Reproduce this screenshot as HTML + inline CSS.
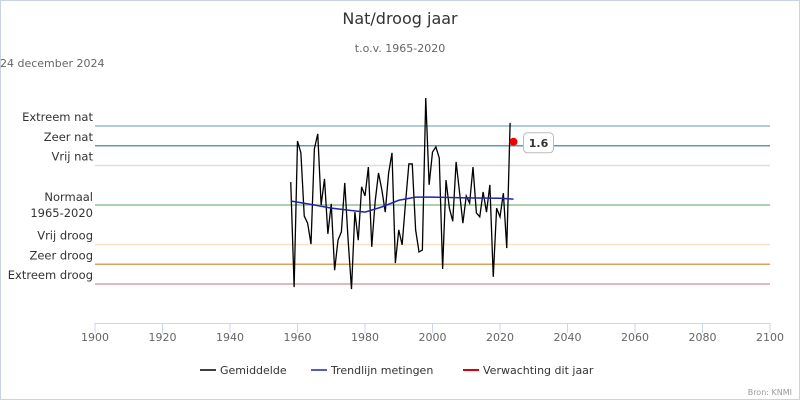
<!DOCTYPE html>
<html><head><meta charset="utf-8"><style>
body{margin:0;background:#fff;font-family:"DejaVu Sans","Liberation Sans",sans-serif;}
svg{display:block;font-family:"DejaVu Sans","Liberation Sans",sans-serif;}
</style></head><body>
<svg id="c" width="800" height="400">
<rect x="0.5" y="0.5" width="799" height="399" fill="#fff" stroke="#c8d4e0"/>
<text x="400" y="24" text-anchor="middle" font-size="16" fill="#333">Nat/droog jaar</text>
<text x="400" y="52" text-anchor="middle" font-size="11" fill="#666">t.o.v. 1965-2020</text>
<text x="0" y="67" font-size="11" fill="#666">24 december 2024</text>
<g id="bands"></g><g id="axis"></g><g id="series"></g>
<g font-size="11" fill="#333">
<line x1="200" y1="370" x2="216" y2="370" stroke="#000" stroke-width="1.5"/>
<text x="220" y="374">Gemiddelde</text>
<line x1="311" y1="370" x2="327" y2="370" stroke="#2222aa" stroke-width="1.5"/>
<text x="331" y="374">Trendlijn metingen</text>
<line x1="463" y1="370" x2="479" y2="370" stroke="#d00" stroke-width="2"/>
<text x="483" y="374">Verwachting dit jaar</text>
</g>
<text x="792" y="395" text-anchor="end" font-size="8" fill="#999">Bron: KNMI</text>
</svg>
<script>
const years=[];for(let y=1958;y<=2023;y++)years.push(y);
const values=[0.58,-2.08,1.62,1.32,-0.28,-0.46,-0.99,1.42,1.80,0,0.66,-0.73,0.03,-1.65,-0.89,-0.68,0.56,-0.89,-2.13,-0.18,-0.89,0.46,0.23,0.96,-1.06,0.08,0.81,0.38,-0.18,0.81,1.32,-1.47,-0.63,-1.01,0.05,1.04,1.04,-0.63,-1.19,-1.14,2.71,0.51,1.34,1.47,1.19,-1.62,0.63,-0.08,-0.41,1.09,0.33,-0.46,0.23,0.05,0.96,-0.20,-0.30,0.33,-0.18,0.51,-1.82,-0.08,-0.30,0.30,-1.09,2.08];
const trendYears=[1958,1965,1970,1975,1980,1985,1990,1995,2000,2010,2020,2024];
const trendValues=[0.1,0.0,-0.08,-0.13,-0.18,-0.05,0.12,0.2,0.2,0.18,0.17,0.15];
const forecastYear=2024, forecastValue=1.6;
const bandValues=[2,1.5,1,0,-1,-1.5,-2];
const bandLabels=[["Extreem nat"],["Zeer nat"],["Vrij nat"],["Normaal","1965-2020"],["Vrij droog"],["Zeer droog"],["Extreem droog"]];
const bandColors=["#9ab8cc","#5f9cb3","#dddddd","#92c092","#f2e6c6","#d9a060","#d8a4a4"];
const xTicks=[1900,1920,1940,1960,1980,2000,2020,2040,2060,2080,2100];
const X0=95,X1=770,Y0=205,U=39.5;
const x=v=>X0+(v-1900)/200*(X1-X0);
const y=v=>Y0-v*U;
const NS="http://www.w3.org/2000/svg";
function mk(t,p,a){const e=document.createElementNS(NS,t);for(const k in a)e.setAttribute(k,a[k]);p.appendChild(e);return e;}
const bands=document.getElementById('bands');
bandValues.forEach((v,i)=>{
 const l=mk('line',bands,{x1:X0,x2:X1,y1:y(v),y2:y(v),stroke:bandColors[i],'stroke-width':1.5});
 
 
 const lines=bandLabels[i];
 lines.forEach((s,j)=>{
  const t=mk('text',bands,{x:93,y:y(v)+(lines.length>1?(j===0?-4:12):-5),'text-anchor':'end','font-size':11.5,fill:'#333'});
  t.textContent=s;
  
  
 });
});
const ax=document.getElementById('axis');
mk('line',ax,{x1:X0,x2:X1,y1:323.5,y2:323.5,stroke:'#ccd6eb'});
xTicks.forEach(t=>{
 mk('line',ax,{x1:x(t),x2:x(t),y1:323,y2:333,stroke:'#ccd6eb'});
 const tx=mk('text',ax,{x:x(t),y:341,'text-anchor':'middle','font-size':11,fill:'#666'});
 tx.textContent=t;
 
 
});
const s=document.getElementById('series');
const p=mk('polyline',s,{points:years.map((yr,i)=>x(yr)+','+y(values[i])).join(' '),fill:'none',stroke:'#000','stroke-width':1.3});


const tr=mk('polyline',s,{points:trendYears.map((yr,i)=>x(yr)+','+y(trendValues[i])).join(' '),fill:'none',stroke:'#2222aa','stroke-width':1.5});


const d=mk('circle',s,{cx:x(forecastYear),cy:y(forecastValue),r:4,fill:'#e00'});


const bx=mk('rect',s,{x:x(forecastYear)+10,y:y(forecastValue)-9,width:30,height:20,rx:4,fill:'#fff',stroke:'#bbb'});


const lt=mk('text',s,{x:x(forecastYear)+25,y:y(forecastValue)+5,'text-anchor':'middle','font-size':11,'font-weight':'bold',fill:'#333'});
lt.textContent=forecastValue.toFixed(1);


</script>
</body></html>
